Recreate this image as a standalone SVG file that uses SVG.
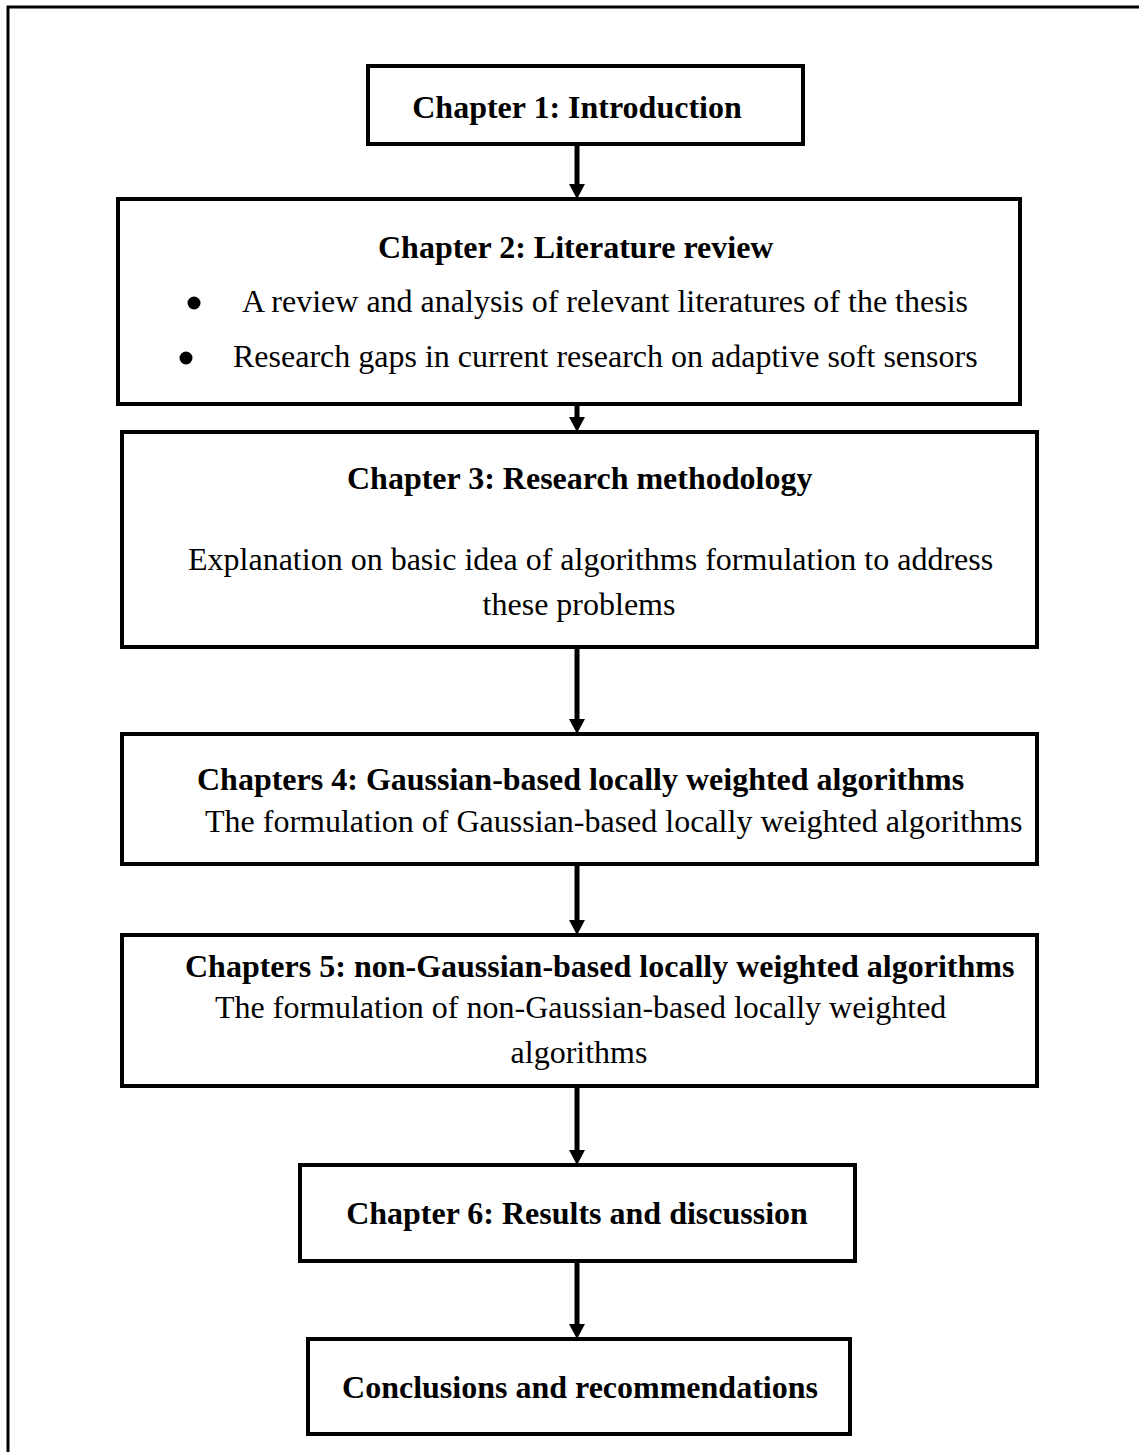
<svg xmlns="http://www.w3.org/2000/svg" width="1139" height="1452" viewBox="0 0 1139 1452">
  <style>
    .box { fill: #ffffff; stroke: #000000; stroke-width: 4; }
    .frame { fill: none; stroke: #000000; stroke-width: 3; }
    .title { font-family: "Liberation Serif", "Times New Roman", serif; font-size: 32px; font-weight: bold; fill: #000000; }
    .body { font-family: "Liberation Serif", "Times New Roman", serif; font-size: 32px; fill: #000000; }
    .link { stroke: #000000; stroke-width: 5; fill: none; }
    .head { fill: #000000; }
  </style>

  <rect width="1139" height="1452" fill="#ffffff"/>
  <!-- page border, running off the right and bottom edges -->
  <rect class="frame" x="8" y="7" width="1160" height="1480"/>

  <g id="connectors">
    <path class="link" d="M577,144 V184"/>
    <polygon class="head" points="569,184 585,184 577,199"/>
    <path class="link" d="M577,404 V417"/>
    <polygon class="head" points="569,417 585,417 577,432"/>
    <path class="link" d="M577,647 V719"/>
    <polygon class="head" points="569,719 585,719 577,734"/>
    <path class="link" d="M577,864 V920"/>
    <polygon class="head" points="569,920 585,920 577,935"/>
    <path class="link" d="M577,1086 V1150"/>
    <polygon class="head" points="569,1150 585,1150 577,1165"/>
    <path class="link" d="M577,1261 V1324"/>
    <polygon class="head" points="569,1324 585,1324 577,1339"/>
  </g>

  <g id="ch1">
    <rect class="box" x="368" y="66" width="435" height="78"/>
    <text class="title" x="577" y="118" text-anchor="middle">Chapter 1: Introduction</text>
  </g>

  <g id="ch2">
    <rect class="box" x="118" y="199" width="902" height="205"/>
    <text class="title" x="378" y="258">Chapter 2: Literature review</text>
    <circle cx="194" cy="303" r="6.5"/>
    <text class="body" x="242" y="312">A review and analysis of relevant literatures of the thesis</text>
    <circle cx="186" cy="358" r="6.5"/>
    <text class="body" x="233" y="367">Research gaps in current research on adaptive soft sensors</text>
  </g>

  <g id="ch3">
    <rect class="box" x="122" y="432" width="915" height="215"/>
    <text class="title" x="347" y="489">Chapter 3: Research methodology</text>
    <text class="body" x="188" y="570">Explanation on basic idea of algorithms formulation to address</text>
    <text class="body" x="579" y="615" text-anchor="middle">these problems</text>
  </g>

  <g id="ch4">
    <rect class="box" x="122" y="734" width="915" height="130"/>
    <text class="title" x="197" y="790">Chapters 4: Gaussian-based locally weighted algorithms</text>
    <text class="body" x="205" y="832">The formulation of Gaussian-based locally weighted algorithms</text>
  </g>

  <g id="ch5">
    <rect class="box" x="122" y="935" width="915" height="151"/>
    <text class="title" x="185" y="977">Chapters 5: non-Gaussian-based locally weighted algorithms</text>
    <text class="body" x="215" y="1018">The formulation of non-Gaussian-based locally weighted</text>
    <text class="body" x="579" y="1063" text-anchor="middle">algorithms</text>
  </g>

  <g id="ch6">
    <rect class="box" x="300" y="1165" width="555" height="96"/>
    <text class="title" x="577" y="1224" text-anchor="middle">Chapter 6: Results and discussion</text>
  </g>

  <g id="ch7">
    <rect class="box" x="308" y="1339" width="542" height="95"/>
    <text class="title" x="580" y="1398" text-anchor="middle">Conclusions and recommendations</text>
  </g>
</svg>
